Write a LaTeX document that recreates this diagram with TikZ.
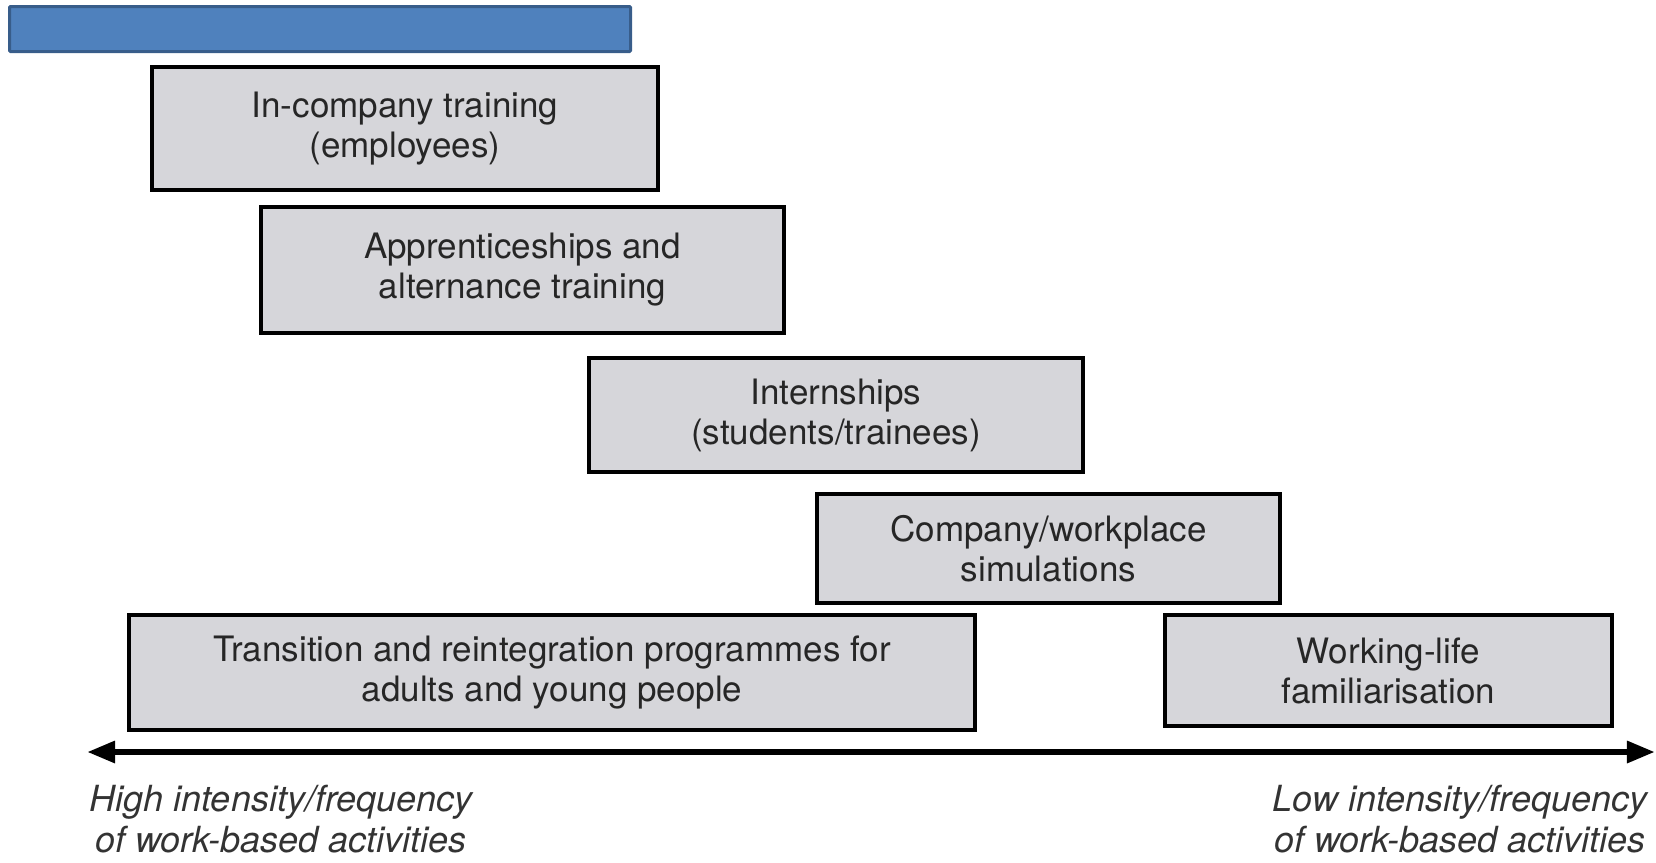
\documentclass[tikz,border=0pt]{standalone}
\usepackage{fontspec}
\setmainfont{TeX Gyre Heros}
\usepackage{xcolor}
\usepackage{tikz}
\usetikzlibrary{positioning, shapes, calc, arrows}
\definecolor{barblue}{HTML}{4F81BD}
\definecolor{barline}{HTML}{385D8A}
\definecolor{boxgray}{HTML}{D6D6DA}
\newcommand{\boxfont}{\fontsize{35}{40}\selectfont}
\newcommand{\axisfont}{\fontsize{36}{41}\selectfont\itshape}

\begin{document}
\begin{tikzpicture}[x=1pt, y=-1pt]

	\tikzstyle{stage}=[rectangle, draw=black, line width=4pt, fill=boxgray, align=center, text=black!85, font=\boxfont, inner sep=0pt]
	\tikzstyle{axislabel}=[align=center, text=black!80, font=\axisfont, inner sep=0pt]

	\useasboundingbox (0,0) rectangle (1656,862);

	% title bar (empty)
	\node (titlebar) at (320,29) [rectangle, rounded corners=1pt, draw=barline, line width=3pt, fill=barblue, minimum width=621pt, minimum height=45pt] {};

	% work-based learning forms
	\node (incompany) at (405,128.5) [stage, minimum width=506pt, minimum height=123pt] {In-company training\\(employees)};
	\node (apprentice) at (522.5,270) [stage, minimum width=523pt, minimum height=126pt] {Apprenticeships and\\alternance training};
	\node (internship) at (836,415) [stage, minimum width=494pt, minimum height=114pt] {Internships\\(students/trainees)};
	\node (simulation) at (1048.5,548.5) [stage, minimum width=463pt, minimum height=109pt] {Company/workplace\\simulations};
	\node (transition) at (552,672.5) [stage, minimum width=846pt, minimum height=115pt] {Transition and reintegration programmes for\\adults and young people};
	\node (worklife) at (1388.5,670.5) [stage, minimum width=447pt, minimum height=111pt] {Working-life\\familiarisation};

	% intensity axis
	\coordinate (axisl) at (88,752);
	\coordinate (axisr) at (1654,752);
	\draw [<->, >=triangle 45, line width=5.5pt] (axisl) -- (axisr);

	\node (highlabel) at (281,819) [axislabel] {High intensity/frequency\\of work-based activities};
	\node (lowlabel) at (1460,819) [axislabel] {Low intensity/frequency\\of work-based activities};
\end{tikzpicture}
\end{document}
